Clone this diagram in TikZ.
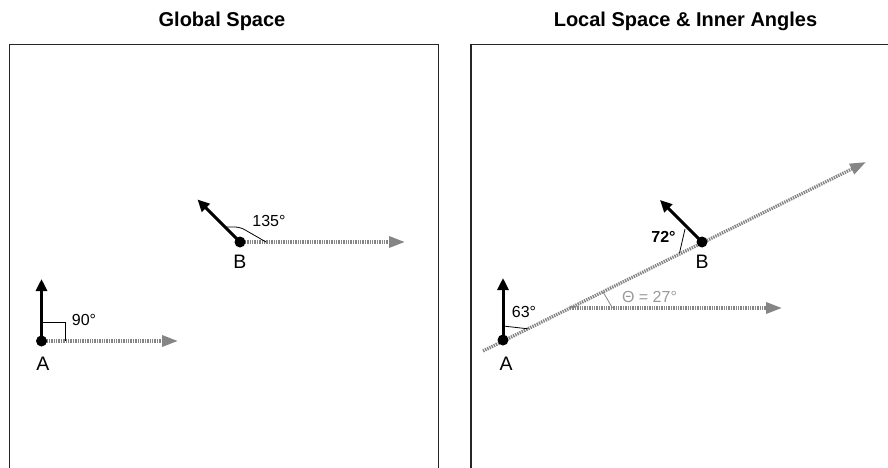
\documentclass[tikz,border=0pt]{standalone}
\usepackage{fontspec}
\setmainfont{Liberation Sans}
\usetikzlibrary{arrows.meta}
\definecolor{raygray}{HTML}{858585}
\definecolor{thetagray}{HTML}{999999}
\begin{document}
\begin{tikzpicture}[x=1pt,y=-1pt,
  frame/.style={line width=1.2pt, draw=black!85},
  ray/.style={draw=raygray, line width=3.3pt, dash pattern=on 1.4pt off 1pt,
    -{Triangle[length=16pt,width=11pt,fill=raygray]}},
  vec/.style={draw=black, line width=3pt, -{Triangle[length=12pt,width=11pt]}},
  dot/.style={circle, fill=black, minimum size=11pt, inner sep=0pt},
  anglemark/.style={draw=black, line width=0.8pt},
  thetamark/.style={draw=raygray, line width=0.8pt},
  title/.style={font=\fontsize{20}{23}\selectfont\bfseries, anchor=base, inner sep=0pt},
  ptlbl/.style={font=\fontsize{19.5}{22}\selectfont, anchor=base, inner sep=0pt},
  anglbl/.style={font=\fontsize{16}{19}\selectfont, anchor=base, inner sep=0pt},
]
\useasboundingbox (0,0) rectangle (888,468);
% titles
\node[title] (t1) at (222,27) {Global Space};
\node[title] (t2) at (685.5,27) {Local Space \& Inner Angles};
% frames
\draw[frame] (9.5,475) -- (9.5,44.3) -- (438.3,44.3) -- (438.3,475);
\draw[frame] (471,475) -- (471,44.3) -- (895,44.3) -- (895,475);

% ---------- Global space ----------
\coordinate (A1up) at (41.5,279);
\coordinate (A1end) at (178,341);
\coordinate (B1up) at (197.5,199.5);
\coordinate (B1end) at (405,242);
\coordinate (A1c) at (41.5,341);
\coordinate (B1c) at (240,242);
\draw[ray] (A1c) -- (A1end);
\draw[ray] (B1c) -- (B1end);
\draw[anglemark] (41.5,322) -| (65,341);
\draw[anglemark, rounded corners=5pt] (225,227) -- (240,227) -- (266,242);
\draw[vec] (A1c) -- (A1up);
\draw[vec] (B1c) -- (B1up);
\node[dot] (A1) at (A1c) {};
\node[dot] (B1) at (B1c) {};
\node[ptlbl] (A1l) at (43,370) {A};
\node[ptlbl] (B1l) at (240,268) {B};
\node[anglbl] (a90) at (84,325.7) {90°};
\node[anglbl] (a135) at (269,226.7) {135°};

% ---------- Local space ----------
\coordinate (Lstart) at (483,351);
\coordinate (Lend) at (866,162);
\coordinate (O) at (570,308);
\coordinate (Hend) at (782,308);
\coordinate (A2c) at (503,340);
\coordinate (B2c) at (702,242);
\coordinate (A2up) at (503,278);
\coordinate (B2up) at (660,200);
\draw[ray] (Lstart) -- (Lend);
\draw[ray] (O) -- (Hend);
\draw[thetamark] (603,291.8) -- (612.5,308);
\draw[anglemark] (503,326) -- (528,328.8);
\draw[anglemark] (685,229) -- (679.5,253);
\draw[vec] (A2c) -- (A2up);
\draw[vec] (B2c) -- (B2up);
\node[dot] (A2) at (A2c) {};
\node[dot] (B2) at (B2c) {};
\node[ptlbl] (A2l) at (506,370) {A};
\node[ptlbl] (B2l) at (702,268) {B};
\node[anglbl] (a63) at (524,317.7) {63°};
\node[anglbl, font=\fontsize{16}{19}\selectfont\bfseries] (a72) at (663.5,242.7) {72°};
\node[anglbl, text=thetagray] (th) at (649.5,302.7) {Θ = 27°};
\end{tikzpicture}
\end{document}
